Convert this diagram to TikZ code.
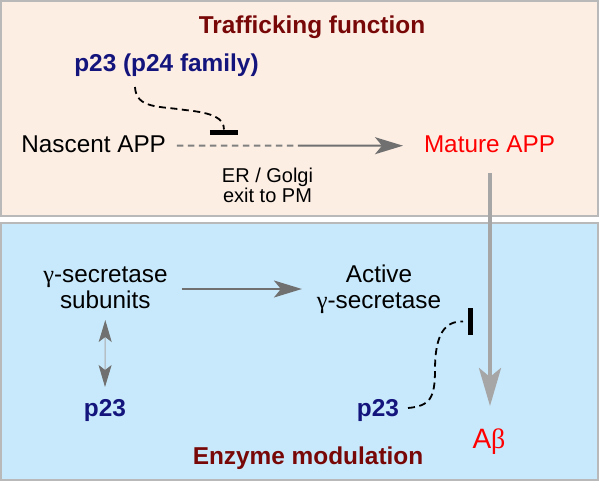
\documentclass[tikz,border=0pt]{standalone}
\usepackage{fontspec}
\setmainfont{Liberation Sans}
\newfontfamily\grk{Liberation Serif}
\usetikzlibrary{arrows.meta,calc}
\definecolor{peach}{RGB}{253,238,228}
\definecolor{skyb}{RGB}{200,233,251}
\definecolor{bordergray}{RGB}{185,185,185}
\definecolor{titlered}{RGB}{120,8,8}
\definecolor{navyb}{RGB}{20,20,125}
\definecolor{arrowgray}{RGB}{112,112,112}
\definecolor{dashgray}{RGB}{128,128,128}
\definecolor{lightarrow}{RGB}{166,166,166}
\definecolor{thinline}{RGB}{170,170,170}
\begin{document}
\begin{tikzpicture}[x=1pt,y=-1pt,
  lbl/.style={anchor=base,inner sep=0pt,outer sep=0pt},
  txt/.style={lbl,font=\fontsize{24.3}{26}\selectfont},
  txtb/.style={lbl,font=\fontsize{24.4}{26}\selectfont\bfseries},
  txts/.style={lbl,font=\fontsize{20}{20}\selectfont},
  panel/.style={draw=bordergray,line width=2pt},
  flow/.style={draw=arrowgray,line width=2pt},
  flowtip/.style={-{Stealth[length=28pt,width=17pt,inset=7pt]}},
  inhib/.style={draw=black,line width=5pt},
  inhibdash/.style={draw=black,line width=1.8pt,dash pattern=on 7pt off 4.5pt}
]
\useasboundingbox (0,0) rectangle (600,482);
\fill[white] (0,0) rectangle (600,482);
\draw[panel,fill=peach] (1,1) rectangle (598,216);
\draw[panel,fill=skyb] (1,223) rectangle (598,480);

% texts
\node[txtb,titlered] (title1) at (312,33) {Trafficking function};
\node[txtb,navyb] (p23fam) at (166.5,71) {p23 (p24 family)};
\node[txt] (nascent) at (93.7,152.5) {Nascent APP};
\node[txt,red] (mature) at (489.5,152.5) {Mature APP};
\node[txts] (er1) at (267.5,182) {ER / Golgi};
\node[txts] (er2) at (267.5,202) {exit to PM};
\node[txt] (gs1) at (105.5,282.5) {{\grk γ}-secretase};
\node[txt] (gs2) at (105.3,308) {subunits};
\node[txt] (act1) at (379,282.5) {Active};
\node[txt] (act2) at (379,308) {{\grk γ}-secretase};
\node[txtb,navyb] (p23L) at (105,416) {p23};
\node[txtb,navyb] (p23R) at (378,416) {p23};
\node[txtb,titlered] (title2) at (308,464) {Enzyme modulation};
\node[lbl,red,font=\fontsize{28}{30}\selectfont] (abeta) at (489,448) {A{\grk β}};

% trafficking arrow: dashed then solid
\coordinate (tA) at ($(nascent.base east)+(11,-6.8)$);
\coordinate (tC) at ($(mature.base west)+(-21,-6.8)$);
\coordinate (tB) at ($(tA)!0.535!(tC)$);
\draw[draw=dashgray,line width=2pt,dash pattern=on 6.5pt off 4.5pt] (tA) -- (tB);
\draw[flow,flowtip] (tB) -- (tC);

% p23 (p24 family) inhibition of trafficking
\coordinate (bar1) at ($(tA)!0.208!(tC)+(0,-13.2)$);
\draw[inhib] ($(bar1)+(-14,0)$) -- ($(bar1)+(14,0)$);
\draw[inhibdash] ($(p23fam.base)+(-31.5,16)$) .. controls +(1,22) and (160,106) .. (185,110)
   .. controls (214,113) and ($(bar1)+(0,-14)$) .. ($(bar1)+(0,-3)$);

% Mature APP to Abeta
\draw[draw=lightarrow,line width=4pt,-{Stealth[length=38pt,width=22pt,inset=9pt]}]
  ($(mature.base)+(0.5,20.5)$) -- ($(abeta.base)+(1,-42)$);

% subunits to active
\draw[flow,flowtip] ($(gs1.base east)+(14,6.5)$) -- ($(act2.base west)+(-15,-19)$);

% double arrow subunits <-> p23
\draw[draw=thinline,line width=1pt,
  {Stealth[length=22pt,width=13pt,inset=5pt,arrowgray]}-{Stealth[length=22pt,width=13pt,inset=5pt,arrowgray]}]
  ($(gs2.base)+(0,12)$) -- ($(p23L.base)+(0,-29)$);

% p23 inhibition of active gamma-secretase
\coordinate (bar2) at (470,321.5);
\draw[inhib] ($(bar2)+(0,-13.5)$) -- ($(bar2)+(0,13.5)$);
\draw[inhibdash] ($(p23R.base east)+(9,-8)$) .. controls +(22,-2) and (435,398) .. (435,370)
   .. controls (435,332) and (446,321) .. ($(bar2)+(-7,0)$);
\end{tikzpicture}
\end{document}
